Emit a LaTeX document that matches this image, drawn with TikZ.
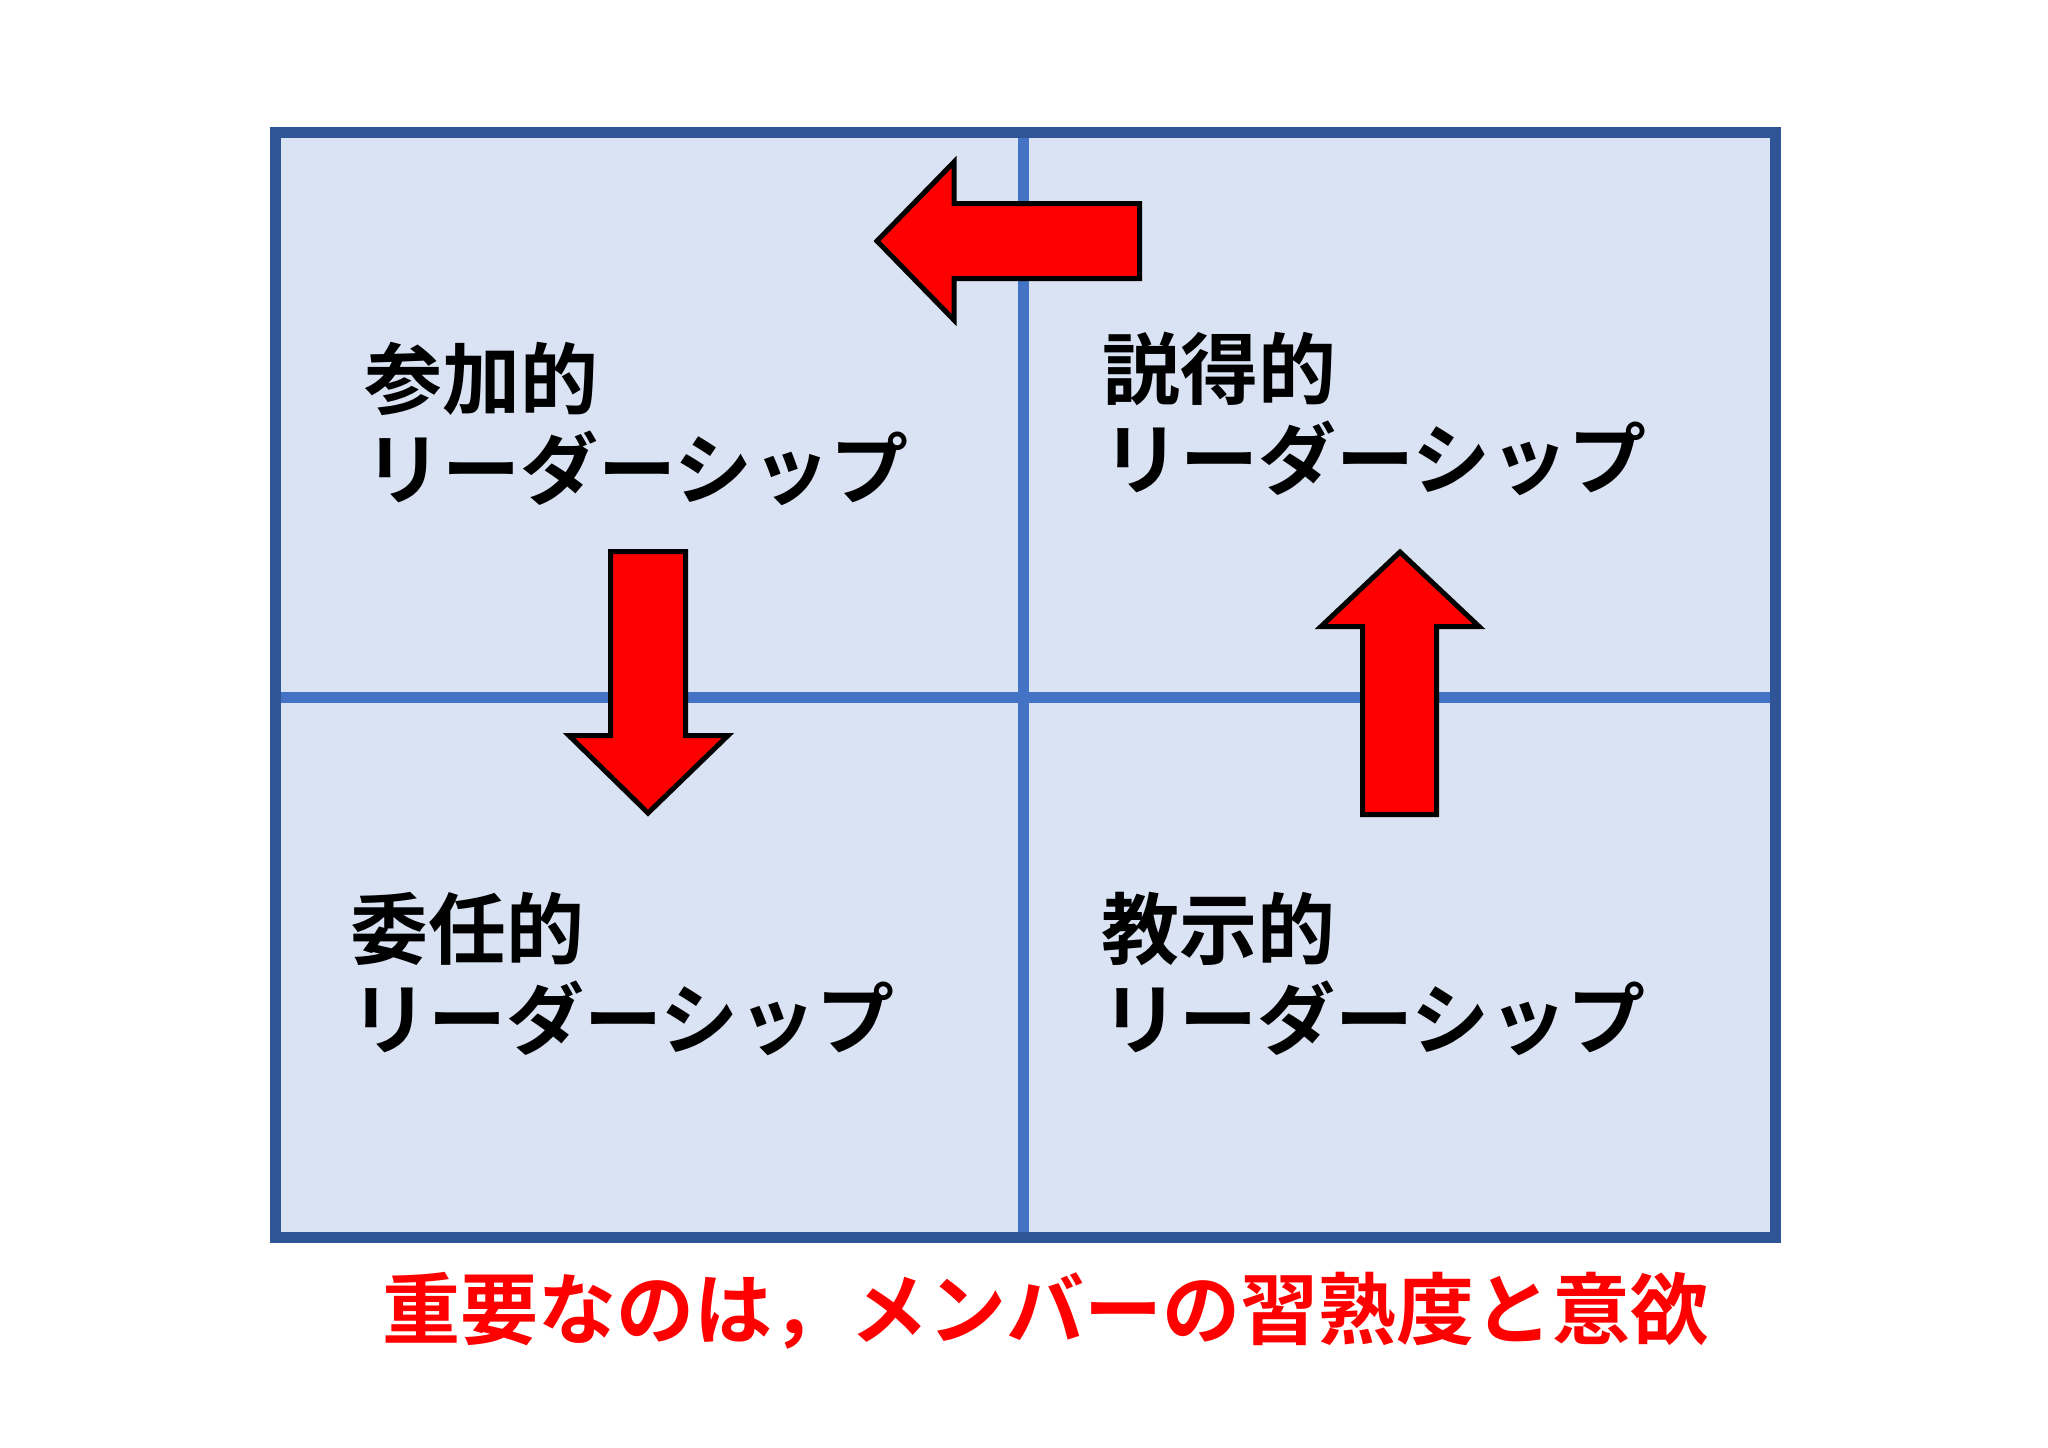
\documentclass[tikz,border=0pt]{standalone}
\usepackage{fontspec}
\newfontfamily\jpfont[BoldFont={* Bold}]{Noto Sans CJK JP}

\definecolor{frameblue}{HTML}{2F5597}
\definecolor{gridblue}{HTML}{4472C4}
\definecolor{cellfill}{HTML}{DAE3F3}

\begin{document}
\begin{tikzpicture}[
    x=0.5pt, y=-0.5pt,
    quadlabel/.style={anchor=north west, align=left, inner sep=0pt,
        font=\jpfont\bfseries\fontsize{39pt}{45pt}\selectfont},
    bigarrow/.style={fill=red, draw=black, line width=2.5pt, line join=miter}
]

    % Page (reference pixels, y pointing down)
    \useasboundingbox (0,0) rectangle (2048,1447);

    % Grid geometry
    \def\xL{275} \def\xM{1023} \def\xR{1775}
    \def\yT{132} \def\yM{697} \def\yB{1237}

    % Four cells
    \fill[cellfill] (\xL,\yT) rectangle (\xR,\yB);
    \draw[gridblue, line width=5.5pt] (\xM,\yT) -- (\xM,\yB);
    \draw[gridblue, line width=5.5pt] (\xL,\yM) -- (\xR,\yM);
    \draw[frameblue, line width=5.5pt] (\xL,\yT) rectangle (\xR,\yB);

    % Quadrant labels
    \node[quadlabel] (tl) at (364,342) {参加的\\リーダーシップ};
    \node[quadlabel] (tr) at (1102,332) {説得的\\リーダーシップ};
    \node[quadlabel] (bl) at (350,892) {委任的\\リーダーシップ};
    \node[quadlabel] (br) at (1101,892) {教示的\\リーダーシップ};

    % Cycle arrows: up, left, down
    \draw[bigarrow] (1400,552) -- (1479,626.5) -- (1436.5,626.5) -- (1436.5,814.5)
        -- (1362.5,814.5) -- (1362.5,626.5) -- (1321,626.5) -- cycle;
    \draw[bigarrow] (877,241) -- (954,162) -- (954,203.5) -- (1139.5,203.5)
        -- (1139.5,278.5) -- (954,278.5) -- (954,320) -- cycle;
    \draw[bigarrow] (648,813) -- (569,735.5) -- (610.5,735.5) -- (610.5,551.5)
        -- (685.5,551.5) -- (685.5,735.5) -- (728,735.5) -- cycle;

    % Note below the grid
    \node[quadlabel, text=red] (note) at (382,1272) {重要なのは，メンバーの習熟度と意欲};

\end{tikzpicture}
\end{document}
